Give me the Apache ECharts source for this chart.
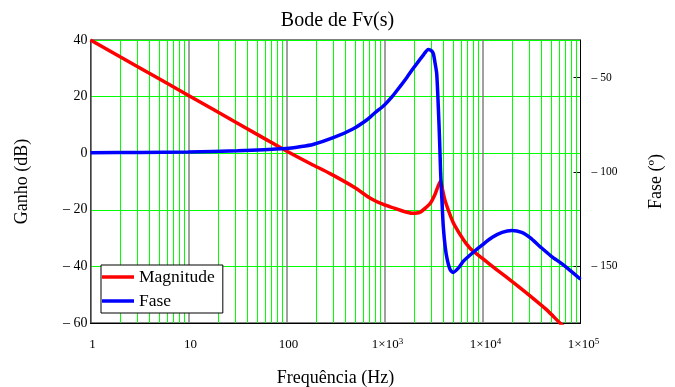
<!DOCTYPE html>
<html>
<head>
<meta charset="utf-8">
<script src="https://cdn.jsdelivr.net/npm/echarts@6/dist/echarts.min.js"></script>
<style>html,body{margin:0;padding:0;background:#fff}#c{width:675px;height:387px}</style>
</head>
<body>
<div id="c"></div>
<script>
// ---- data ----
const magFreq = [1, 3.16, 10, 31.6, 100, 178, 282, 501, 708, 1000, 1259, 1585, 1905, 2291, 2692, 2951, 3273, 3508, 3741, 3890, 4140, 4853, 5248, 6368, 7413, 8710, 10000, 14125, 19953, 30549, 44668, 61660, 100000];
const magDb   = [40, 30.2, 20.4, 10.6, 0.8, -3.8, -7.3, -12.2, -15.8, -18.3, -19.4, -20.6, -21.2, -20.9, -19.0, -17.6, -14.6, -11.8, -9.8, -12.5, -16.6, -23.3, -25.8, -30.5, -33.5, -35.6, -37.2, -41.3, -45.3, -50.4, -55.2, -60, -67];
const phaseFreq = [1, 3.16, 10, 31.6, 100, 137, 186, 300, 481, 658, 794, 1000, 1202, 1439, 1698, 1968, 2489, 2800, 3000, 3150, 3300, 3412, 3540, 3648, 3741, 3864, 3981, 4169, 4375, 4656, 5012, 5754, 6368, 8054, 9954, 12589, 15849, 19953, 25119, 30549, 38637, 50119, 66834, 100000];
const phaseDeg  = [-89.7, -89.6, -89.3, -88.7, -87.5, -86.6, -85.4, -81.8, -77.0, -72.4, -68.7, -64.4, -59.9, -54.7, -49.7, -45, -38, -35, -35.6, -37.3, -43, -48, -65.3, -83, -100.6, -116, -128.9, -140, -146.6, -151.5, -153.2, -150.5, -147.3, -142.5, -138.6, -134.6, -132, -131, -132, -134.8, -139.5, -144.5, -149.2, -156.8];
const gainTicks = [-60, -40, -20, 0, 20, 40];
const phaseTicks = [-150, -100, -50];
const decades = [1, 10, 100, 1000, 10000];
const decadeLines = [10, 100, 1000, 10000];
const minorMult = [2, 3, 4, 5, 6, 7, 8, 9];

const FONT = 'Liberation Serif';
const gridLines = [];
decades.forEach(d => minorMult.forEach(m => gridLines.push({xAxis: d * m})));
decadeLines.forEach(d => gridLines.push({xAxis: d, lineStyle: {color: '#808080', width: 1.5}}));

function dash(v) { return v < 0 ? '\u2013 ' + Math.abs(v) : String(v); }

const chart = echarts.init(document.getElementById('c'), null, {renderer: 'canvas'});
chart.setOption({
  animation: false,
  backgroundColor: '#fff',
  title: {
    text: 'Bode de Fv(s)', left: 'center', top: 6,
    textStyle: {fontFamily: FONT, fontSize: 20, fontWeight: 'normal', color: '#000'}
  },
  grid: {left: 90.5, right: 94.5, top: 40, bottom: 64, outerBoundsMode: 'none', containLabel: false,
         show: true, borderColor: '#000', borderWidth: 1, backgroundColor: 'transparent'},
  legend: {
    orient: 'vertical', left: 101, top: 265, z: 10,
    data: ['Magnitude', 'Fase'],
    icon: 'rect', itemWidth: 32, itemHeight: 3.5, itemGap: 6,
    padding: [3, 8, 3, 1],
    backgroundColor: '#fff', borderColor: '#000', borderWidth: 1,
    textStyle: {fontFamily: FONT, fontSize: 17.5, color: '#000', lineHeight: 18}
  },
  xAxis: {
    type: 'log', logBase: 10, min: 1, max: 100000, interval: 1,
    name: 'Frequência (Hz)', nameLocation: 'middle', nameGap: 46,
    nameTextStyle: {fontFamily: FONT, fontSize: 18, color: '#000'},
    axisLine: {show: true, onZero: false, lineStyle: {color: '#000', width: 1}},
    axisTick: {show: false},
    splitLine: {show: false},
    axisLabel: {
      margin: 14, padding: [0, 0, 0, 6], color: '#000',
      formatter: function (v) {
        if (v < 1000) return '{b|' + v + '}{s|\u2009}';
        return '{b|1\u00d710}{s|' + Math.round(Math.log10(v)) + '}';
      },
      rich: {
        b: {fontFamily: FONT, fontSize: 13, color: '#000'},
        s: {fontFamily: FONT, fontSize: 9, color: '#000', padding: [0, 0, 7, 0]}
      }
    }
  },
  yAxis: [
    {
      type: 'value', min: -60, max: 40, interval: 20, position: 'left',
      name: 'Ganho (dB)', nameLocation: 'middle', nameGap: 59, nameRotate: 90,
      nameTextStyle: {fontFamily: FONT, fontSize: 18, color: '#000'},
      axisLine: {show: true, lineStyle: {color: '#555', width: 1.5}},
      axisTick: {show: false},
      splitLine: {show: true, lineStyle: {color: '#00ff00', width: 1}},
      axisLabel: {margin: 3, fontFamily: FONT, fontSize: 14, color: '#000', formatter: dash}
    },
    {
      type: 'value', min: -180, max: -30, position: 'right',
      name: 'Fase (º)', nameLocation: 'middle', nameGap: 67, nameRotate: 90,
      nameTextStyle: {fontFamily: FONT, fontSize: 18, color: '#000'},
      axisLine: {show: true, lineStyle: {color: '#000', width: 1}},
      axisTick: {show: true, inside: true, length: 7, customValues: phaseTicks, lineStyle: {color: '#000', width: 1}},
      splitLine: {show: false},
      axisLabel: {margin: 11, fontFamily: FONT, fontSize: 11.5, color: '#000', customValues: phaseTicks, formatter: dash}
    }
  ],
  series: [
    {
      name: 'grid', type: 'line', data: [], z: 1, silent: true,
      markLine: {
        silent: true, z: 1, symbol: ['none', 'none'], label: {show: false},
        lineStyle: {color: '#00ff00', width: 1, type: 'solid'},
        emphasis: {disabled: true},
        data: gridLines
      }
    },
    {
      name: 'Magnitude', type: 'line', yAxisIndex: 0, showSymbol: false, smooth: 0.25, clip: true,
      lineStyle: {color: '#ff0000', width: 3.5}, itemStyle: {color: '#ff0000'},
      data: magFreq.map((f, i) => [f, magDb[i]])
    },
    {
      name: 'Fase', type: 'line', yAxisIndex: 1, showSymbol: false, smooth: 0.25, clip: true,
      lineStyle: {color: '#0000ff', width: 3.5}, itemStyle: {color: '#0000ff'},
      data: phaseFreq.map((f, i) => [f, phaseDeg[i]])
    }
  ]
});
</script>
</body>
</html>
